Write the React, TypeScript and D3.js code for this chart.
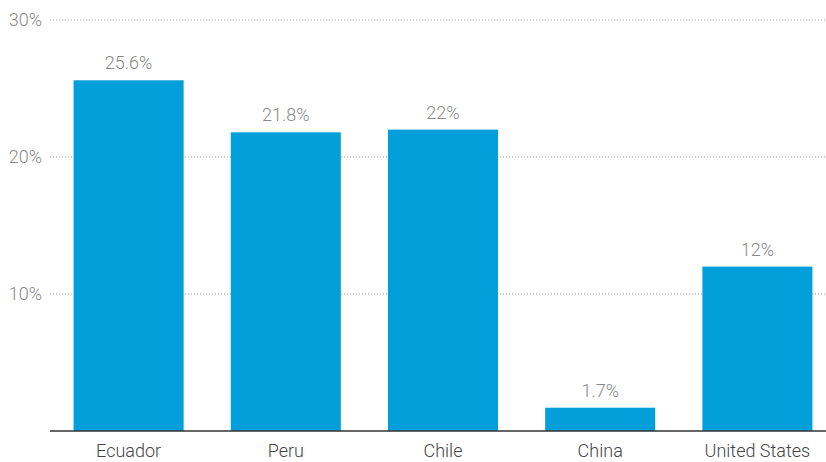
import React, { useEffect } from "react";
import * as d3 from "d3";

const categories = ["Ecuador", "Peru", "Chile", "China", "United States"];
const values = [25.6, 21.8, 22, 1.7, 12];
const valueLabels = ["25.6%", "21.8%", "22%", "1.7%", "12%"];
const yTicks = [10, 20, 30];

const W = 826;
const H = 462;

export default function App() {
  useEffect(() => {
    document.body.style.margin = "0";
  }, []);
  const x = d3.scaleBand<string>().domain(categories).range([50, 836]).paddingInner(0.3).paddingOuter(0.15);
  const y = d3.scaleLinear().domain([0, 30]).range([431, 20]);
  const font = "Roboto, sans-serif";
  return (
    <svg width={W} height={H} style={{ display: "block" }} fontFamily={font}>
      {yTicks.map((t) => (
        <g key={t}>
          <line x1={50} x2={W} y1={y(t)} y2={y(t)} stroke="#999" strokeWidth={1} strokeDasharray="1,2" />
          <text x={42} y={y(t)} dy="0.35em" textAnchor="end" fontSize={18} fontWeight={300} fill="#888">
            {t}%
          </text>
        </g>
      ))}
      {categories.map((c, i) => (
        <g key={c}>
          <rect x={x(c)} y={y(values[i])} width={x.bandwidth()} height={y(0) - y(values[i])} fill="#029fdb" />
          <text x={(x(c) as number) + x.bandwidth() / 2} y={y(values[i]) - 11} textAnchor="middle" fontSize={18} fontWeight={300} fill="#888">
            {valueLabels[i]}
          </text>
          <text x={(x(c) as number) + x.bandwidth() / 2} y={457} textAnchor="middle" fontSize={18} fontWeight={300} fill="#444">
            {c}
          </text>
        </g>
      ))}
      <line x1={50} x2={W} y1={y(0)} y2={y(0)} stroke="#333" strokeWidth={1.5} />
    </svg>
  );
}
